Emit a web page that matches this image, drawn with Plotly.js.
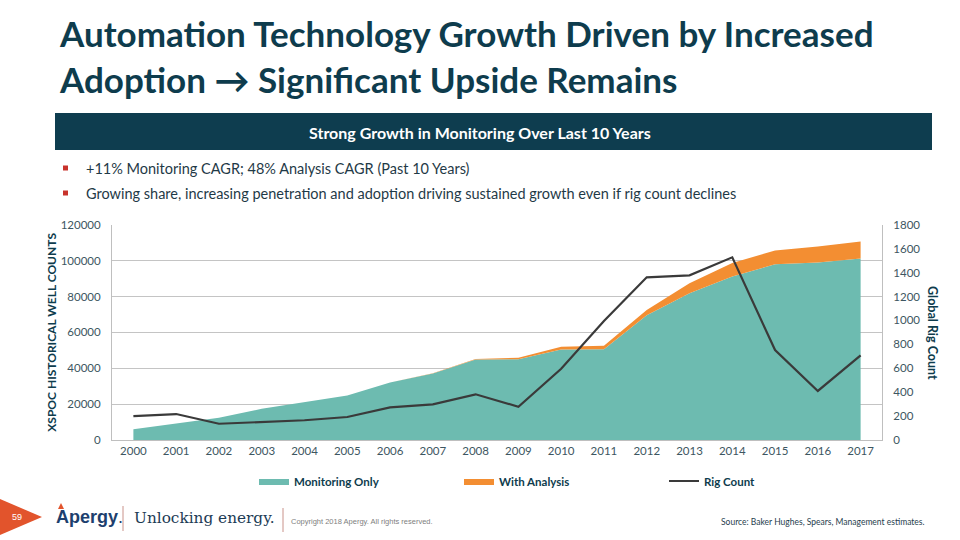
<!DOCTYPE html>
<html>
<head>
<meta charset="utf-8">
<script src="https://cdn.plot.ly/plotly-3.0.1.min.js"></script>
<style>
  html, body { margin: 0; padding: 0; background: #ffffff; }
  #chart { width: 960px; height: 540px; }
</style>
</head>
<body>
<div id="chart"></div>
<script>
// ---- Data ----
const years = ["2000","2001","2002","2003","2004","2005","2006","2007","2008",
               "2009","2010","2011","2012","2013","2014","2015","2016","2017"];
const monitoringOnly = [6000, 9300, 12400, 17400, 20900, 24800, 32000, 37000, 44800,
                        45000, 50400, 50600, 69600, 81800, 91100, 97900, 98900, 101100];
const withAnalysis   = [0, 0, 0, 0, 0, 0, 100, 200, 400,
                        900, 1600, 2000, 2900, 5600, 7600, 7700, 9000, 9600];
const rigCount       = [200, 217, 136, 153, 165, 192, 273, 298, 382,
                        278, 596, 995, 1360, 1377, 1527, 752, 410, 708];

const leftTicks  = [0, 20000, 40000, 60000, 80000, 100000, 120000];
const rightTicks = [0, 200, 400, 600, 800, 1000, 1200, 1400, 1600, 1800];

const bullets = [
  "+11% Monitoring CAGR; 48% Analysis CAGR (Past 10 Years)",
  "Growing share, increasing penetration and adoption driving sustained growth even if rig count declines"
];

// ---- Styling ----
const W = 960, H = 540;
const px = x => x / W;
const py = y => 1 - y / H;
const navy = "#0e3c4d";
const tickCol = "#3d5661";
const font = "Lato, 'Open Sans', sans-serif";

const traces = [
  {
    x: years, y: monitoringOnly, name: "Monitoring Only",
    type: "scatter", mode: "lines", stackgroup: "wells",
    line: { width: 0, color: "#6dbbb0" }, fillcolor: "#6dbbb0",
    hoverinfo: "x+y"
  },
  {
    x: years, y: withAnalysis, name: "With Analysis",
    type: "scatter", mode: "lines", stackgroup: "wells",
    line: { width: 0, color: "#f38e32" }, fillcolor: "#f38e32",
    hoverinfo: "x+y"
  },
  {
    x: years, y: rigCount, name: "Rig Count", yaxis: "y2",
    type: "scatter", mode: "lines",
    line: { width: 2.2, color: "#3a3a3a" }
  }
];

function ann(x, y, text, f, xanchor, extra) {
  return Object.assign({ xref: "paper", yref: "paper", x: px(x), y: py(y), text: text,
    showarrow: false, xanchor: xanchor || "center", yanchor: "middle", font: f }, extra || {});
}

const annotations = [
  ann(933, 333, "<b>Global Rig Count</b>", { family: font, size: 12.5, color: navy }, "center", { textangle: 90 }),
  ann(480, 132, "<b>Strong Growth in Monitoring Over Last 10 Years</b>", { family: font, size: 16, color: "#ffffff" }),
  ann(17, 517, "59", { family: "'Liberation Sans', Arial, sans-serif", size: 9, color: "#ffffff" }),
  ann(54, 517, "<b>Apergy</b>.", { family: "'Liberation Sans', Arial, sans-serif", size: 18, color: "#1d3f6e" }, "left"),
  ann(132, 518, "Unlocking energy.", { family: "'DejaVu Serif', serif", size: 15.3, color: "#1c3b55" }, "left"),
  ann(289, 521, "Copyright 2018 Apergy. All rights reserved.", { family: "'Liberation Sans', Arial, sans-serif", size: 7.5, color: "#808080" }, "left"),
  ann(927, 522, "Source: Baker Hughes, Spears, Management estimates.", { family: font, size: 8.5, color: "#1f3e4e" }, "right")
];

bullets.forEach((b, i) => {
  annotations.push(ann(84, 168 + i * 25, b, { family: font, size: 14.5, color: "#1f3a47" }, "left"));
});

const shapes = [
  { type: "rect", xref: "paper", yref: "paper", x0: px(55), x1: px(932), y0: py(150), y1: py(113),
    fillcolor: "#0e3d4f", line: { width: 0 }, layer: "below" },
  { type: "path", xref: "paper", yref: "paper",
    path: `M0,${py(499)} L${px(42)},${py(517)} L0,${py(535)} Z`,
    fillcolor: "#e2542c", line: { width: 0 } },
  { type: "path", xref: "paper", yref: "paper",
    path: `M${px(58)},${py(509)} L${px(61)},${py(503)} L${px(64)},${py(509)} Z`,
    fillcolor: "#e2542c", line: { width: 0 } },
  { type: "line", xref: "paper", yref: "paper", x0: px(123), x1: px(123), y0: py(506), y1: py(531),
    line: { color: "#c9928a", width: 1 } },
  { type: "line", xref: "paper", yref: "paper", x0: px(283), x1: px(283), y0: py(508), y1: py(532),
    line: { color: "#c9928a", width: 1 } }
];
bullets.forEach((b, i) => {
  const cy = 168 + i * 25;
  shapes.push({ type: "rect", xref: "paper", yref: "paper",
    x0: px(63), x1: px(68), y0: py(cy + 2.5), y1: py(cy - 2.5),
    fillcolor: "#c8332c", line: { width: 0 } });
});

const layout = {
  width: W, height: H,
  margin: { l: 0, r: 0, t: 0, b: 0, autoexpand: false },
  paper_bgcolor: "#ffffff", plot_bgcolor: "#ffffff",
  font: { family: font, color: tickCol },
  title: {
    text: "<b>Automation Technology Growth Driven by Increased<br>Adoption → Significant Upside Remains</b>",
    x: px(60), xanchor: "left", xref: "paper",
    y: py(47), yanchor: "top", yref: "paper",
    font: { family: font, size: 35, color: navy }
  },
  xaxis: {
    type: "category", domain: [px(112), px(882)], range: [-0.5, 17.5],
    showgrid: false, showline: true, linecolor: "#bfbfbf", linewidth: 1,
    ticks: "", tickfont: { family: font, size: 11.5, color: tickCol },
    anchor: "y", automargin: false, fixedrange: true
  },
  yaxis: {
    domain: [1 - 440 / H, 1 - 224.7 / H], range: [0, 120000],
    tickvals: leftTicks, ticktext: leftTicks.map(String),
    showgrid: true, gridcolor: "#c4c4c4", gridwidth: 1,
    showline: true, linecolor: "#bfbfbf", zeroline: false,
    ticks: "", ticklabelstandoff: 8, automargin: false,
    tickfont: { family: font, size: 11.5, color: tickCol },
    title: { text: "<b>XSPOC HISTORICAL WELL COUNTS</b>", standoff: 1,
             font: { family: font, size: 12, color: navy } },
    fixedrange: true
  },
  yaxis2: {
    overlaying: "y", side: "right", anchor: "x", range: [0, 1800],
    tickvals: rightTicks, ticktext: rightTicks.map(String),
    showgrid: false, showline: true, linecolor: "#bfbfbf", zeroline: false,
    ticks: "", ticklabelstandoff: 8, automargin: false,
    tickfont: { family: font, size: 11.5, color: tickCol },
    fixedrange: true
  },
  showlegend: true,
  legend: {
    orientation: "h", x: px(254), xanchor: "left", y: py(481), yanchor: "middle",
    entrywidth: 160, entrywidthmode: "pixels", traceorder: "normal",
    font: { family: font, size: 11.5, color: navy, weight: "bold" },
    bgcolor: "rgba(0,0,0,0)"
  },
  annotations: annotations,
  shapes: shapes
};

Plotly.newPlot("chart", traces, layout, { displayModeBar: false, staticPlot: true });
</script>
</body>
</html>
